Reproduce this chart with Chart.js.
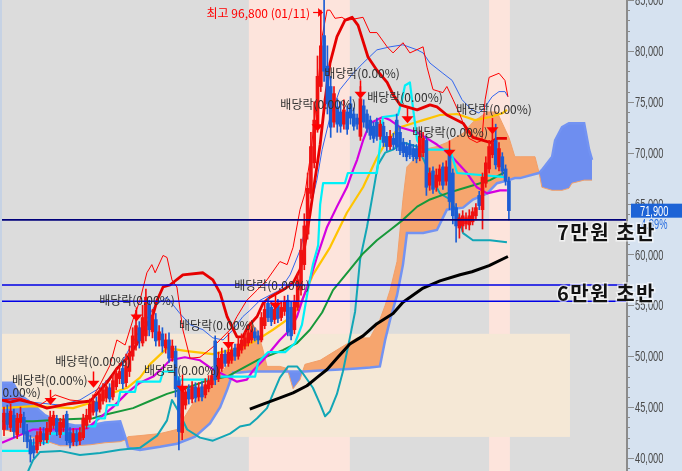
<!DOCTYPE html>
<html>
<head>
<meta charset="utf-8">
<script src="https://cdn.jsdelivr.net/npm/chart.js@4.4.1/dist/chart.umd.min.js"></script>
<style>
  html, body { margin: 0; padding: 0; background: #d6e2f0; }
  canvas { display: block; }
</style>
</head>
<body>
<canvas id="chart" width="682" height="471"></canvas>
<script>
// prices in thousand won, one candle per trading day (index 0..153)
const opens = [42.8,44.4,43.0,44.2,42.3,43.5,44.0,42.6,41.8,41.2,40.8,41.6,42.4,41.8,42.6,43.2,43.9,42.3,43.0,44.3,
  42.5,41.6,42.4,41.7,42.0,43.2,43.8,44.5,45.5,44.8,45.6,45.9,46.9,46.0,47.0,47.8,48.8,47.4,48.5,50.0,
  51.2,52.8,51.3,52.0,55.0,52.4,53.6,51.6,52.2,50.8,51.6,49.8,50.5,47.6,42.5,45.2,46.8,45.8,47.0,46.0,
  47.0,46.2,46.8,47.2,51.5,47.8,48.8,50.2,49.3,49.6,50.8,50.0,50.6,51.0,51.3,51.6,52.4,52.0,51.6,53.0,
  55.2,54.8,53.6,55.0,53.8,54.4,55.5,54.8,52.6,54.8,56.5,59.0,62.0,66.0,69.0,72.5,76.5,81.5,78.5,76.5,
  73.0,74.5,74.0,72.8,74.0,74.8,73.8,73.4,71.6,74.6,73.8,73.2,72.6,73.0,71.6,72.6,71.6,70.6,71.4,73.2,
  72.0,71.0,70.6,70.8,70.4,70.4,69.6,70.0,71.2,66.8,68.2,66.6,67.2,68.6,67.2,69.8,68.0,64.6,62.6,62.8,
  63.0,62.9,63.2,63.8,65.8,64.4,67.0,68.4,69.8,71.2,68.6,69.6,68.4,67.2];
const highs = [45.0,45.2,45.3,44.8,44.4,45.0,44.5,43.3,42.2,41.9,42.6,43.0,43.0,43.5,44.6,44.6,44.2,43.9,44.2,44.6,
  43.0,42.9,42.8,43.0,44.3,44.8,45.8,46.2,46.0,46.9,47.3,47.6,47.3,48.2,48.8,49.3,49.5,50.2,51.0,52.8,
  54.5,53.4,55.0,56.6,55.5,54.6,54.2,53.0,52.8,52.2,52.3,51.6,51.0,48.0,47.2,47.0,47.2,47.5,47.4,47.4,
  47.5,47.8,48.1,48.6,52.0,50.4,50.8,50.6,50.9,51.2,51.2,51.8,52.2,52.4,52.9,53.0,52.8,52.5,54.3,55.2,
  55.7,55.3,55.0,55.6,55.4,55.9,56.0,55.3,56.0,58.2,61.5,64.0,68.0,72.0,75.0,79.5,84.0,96.8,80.5,77.5,
  76.5,75.3,75.0,75.2,74.6,75.5,74.4,73.8,76.5,75.2,74.2,73.6,73.0,73.4,73.2,73.0,72.0,72.2,71.9,73.8,
  72.6,71.4,71.0,71.2,70.8,70.8,72.2,72.0,71.6,68.5,68.6,68.4,68.8,69.0,69.2,70.3,68.4,65.0,64.0,64.3,
  64.1,64.4,64.6,65.0,66.2,68.0,69.6,71.2,72.0,72.8,71.0,70.0,68.8,67.6];
const lows = [42.2,42.8,42.6,42.0,41.9,43.0,41.6,41.0,39.6,40.0,40.5,41.2,41.3,41.5,42.3,42.9,42.2,42.0,42.6,41.3,
  41.0,41.2,41.2,41.3,41.8,42.9,43.5,44.2,44.0,44.5,45.3,45.5,45.5,45.7,46.7,47.3,46.8,47.0,48.0,49.6,
  50.6,50.8,51.0,51.5,52.0,51.8,51.0,51.0,50.4,50.3,49.4,49.5,46.0,40.8,41.8,44.8,45.3,45.4,45.5,45.6,
  45.6,45.9,46.5,46.9,47.2,47.5,48.5,49.0,49.0,49.3,49.6,49.7,50.3,50.7,51.0,51.3,51.5,51.2,51.4,52.7,
  53.4,53.0,53.2,53.3,53.5,54.0,52.0,51.6,52.2,54.5,56.0,58.5,61.5,65.5,68.5,72.0,76.0,77.0,73.8,71.5,
  72.5,72.0,72.0,72.3,71.8,72.8,72.2,72.3,71.2,72.5,72.0,71.3,71.0,71.2,71.3,70.6,70.2,70.3,70.3,70.2,
  69.8,69.6,69.2,69.4,69.2,69.0,69.2,69.6,65.8,66.3,66.0,66.2,66.8,66.4,66.8,64.4,63.0,61.2,61.6,62.2,
  62.5,62.4,62.9,63.4,64.4,62.5,66.6,68.0,69.5,68.4,68.2,67.8,66.8,63.4];
const closes = [44.4,43.3,44.6,42.6,43.9,44.3,42.4,41.6,40.4,40.5,42.2,42.6,41.8,42.9,44.0,44.2,42.6,43.5,43.8,41.7,
  41.5,42.4,41.6,42.5,43.9,44.2,45.3,45.6,44.6,46.3,46.7,47.0,45.8,47.6,48.3,48.5,47.3,49.0,50.3,52.0,
  53.0,51.5,53.8,55.8,52.6,54.0,51.5,52.4,51.0,51.6,49.8,51.0,46.8,42.6,46.8,46.5,45.8,47.0,45.9,46.9,
  46.0,47.2,47.6,48.1,47.7,49.8,50.2,49.3,50.4,50.6,50.0,51.2,51.6,51.8,52.3,52.6,51.8,51.6,53.8,54.6,
  53.8,53.4,54.6,53.7,54.8,55.4,52.4,52.0,55.4,57.5,60.4,62.8,66.5,70.6,73.2,77.5,80.5,78.0,74.8,72.5,
  75.8,72.8,72.6,74.2,72.3,73.4,72.6,72.8,75.3,73.0,72.4,71.7,71.4,71.6,72.8,71.0,70.6,71.6,70.8,70.6,
  70.2,70.0,69.6,69.8,69.6,69.4,71.6,71.4,66.6,68.0,66.4,67.8,68.4,66.8,68.6,65.2,63.8,62.8,63.6,63.8,
  63.6,63.8,64.2,64.6,64.8,67.6,69.0,70.6,71.0,68.8,70.4,68.2,67.2,64.3];

// indicator lines: [candle index, value]
const envUpper = [[-0.6,45.7],[4.8,45.9],[10.9,45.2],[15.5,46.2],[20,45.7],[26.1,45.5],[29.1,47.2],[32.1,49.1],[34.2,51.6],[36.7,51.1],
  [39.1,53.6],[41.2,55.5],[43.3,58.2],[44.8,59.0],[45.8,58.2],[48.2,59.9],[49.4,59.7],[50.9,57.5],[52.4,56.8],[54.2,52.6],
  [56.4,49.8],[59.4,49.9],[63.3,50.9],[68.5,52.6],[70.6,53.9],[73.6,55.5],[76.7,56.5],[79.7,57.5],[83.6,59.3],[85.8,59.0],
  [87.6,60.7],[89.7,64.4],[91.2,66.0],[92.7,69.3],[94.8,75.2],[96.4,81.4],[97.9,84.0],[98.8,84.0],[100.3,83.2],[102.4,83.3],
  [103.9,83.0],[108.8,83.3],[110.9,81.8],[113,81.8],[116.1,80.4],[117.9,79.8],[120.9,80.8],[123,79.8],[127,80.4],[128.2,78.4],
  [130,76.2],[133,75.9],[134.2,76.5],[136.1,75.2],[138.2,73.7],[140.9,71.4],[143.3,71.0],[144.8,71.2],[145.8,75.2],[147,77.4],
  [150,77.8],[151.8,77.1],[152.7,75.5]];
const envBlue = [[-0.6,45.9],[7.9,45.5],[17,45.2],[23,45.7],[29.1,46.9],[35.2,49.1],[41.2,52.6],[45.8,55.0],[49.4,55.8],[53.3,54.2],
  [56.4,53.1],[60.3,52.6],[63.3,51.8],[66.4,51.6],[69.4,52.6],[72.4,53.9],[74.5,54.5],[77.6,55.5],[80.6,56.0],[83.6,56.5],
  [86.7,58.0],[89.7,60.4],[92.7,64.4],[94.8,67.3],[96.4,70.3],[98.8,73.5],[101.8,76.2],[105.8,77.8],[108.8,78.8],[113,80.1],
  [117,80.4],[120.9,80.6],[125.2,80.1],[127,79.8],[129.1,78.8],[133,77.8],[135.8,77.1],[138.8,75.2],[141.8,74.2],[143.9,73.9],
  [145.8,74.5],[147.9,75.5],[150,76.0],[151.8,76.0],[152.7,75.5]];
const maShort = [[-0.6,45.7],[1.8,45.5],[4.8,45.7],[8.8,45.4],[13,44.9],[19.1,45.3],[26.1,45.6],[28.2,46.3],[31.2,47.4],[34.2,48.8],
  [37.3,49.8],[40.3,51.2],[42.1,52.5],[45.2,54.1],[46.4,55.5],[48.2,56.8],[50.3,57.0],[54.2,58.0],[60.3,58.2],[63.3,57.5],
  [65.5,56.2],[67.6,53.9],[70.6,51.9],[72.4,51.9],[73.9,52.9],[76.7,53.9],[78.5,55.2],[80.6,55.8],[84.5,56.5],[87.6,57.2],
  [89.7,58.5],[90.6,59.8],[92.7,63.9],[94.2,67.3],[95.8,70.8],[97.3,75.2],[98.8,78.8],[100.9,81.4],[103.3,83.0],[105.5,83.3],
  [107.3,82.5],[110.3,79.4],[113,78.1],[116.1,76.9],[117.9,75.7],[120,74.7],[125.2,74.2],[129.1,74.7],[131.2,74.5],[134.2,73.7],
  [139.1,72.9],[142.1,71.5],[145.2,71.2],[147.3,71.0],[149.4,71.4],[152.4,71.4]];
const convLine = [[-0.6,40.7],[7.9,40.7],[8.8,41.5],[13.3,41.5],[13.9,42.4],[23,42.4],[23.9,43.1],[27.6,43.1],[28.2,43.9],[30.6,43.9],
  [31.2,45.2],[34.5,45.2],[35.2,46.5],[39.7,46.5],[40.3,47.5],[47.3,47.5],[48.2,48.5],[51.8,48.5],[52.7,47.7],[63.9,47.7],
  [64.8,48.0],[76.1,48.0],[77,49.4],[80,50.4],[85.2,50.4],[88.2,51.3],[90.3,53.1],[92.1,56.5],[93.6,59.0],[95.2,60.9],
  [95.8,64.9],[96.7,67.0],[103.3,67.0],[104.2,68.0],[113,68.0],[113.9,70.6],[114.8,73.5],[119.4,73.7],[120.6,75.2],[121.5,76.6],
  [123,76.9],[123.9,74.5],[125.2,71.2],[127,70.3],[135.2,70.3],[137.3,68.0],[151.8,67.6]];
const baseLine = [[-0.6,41.5],[8.8,42.8],[19.1,42.8],[25.2,42.9],[27,43.4],[33,45.0],[37.3,46.4],[41.2,47.4],[45.2,48.0],[48.2,48.9],
  [50.3,49.6],[54.8,49.9],[59.4,49.6],[62.4,48.9],[67.6,48.0],[70.6,47.5],[73.6,47.7],[75.5,48.6],[78.5,49.6],[83.6,51.6],
  [86.7,52.6],[88.8,53.9],[90.6,55.7],[92.7,57.5],[94.8,59.7],[97.9,62.7],[100.9,64.7],[103.9,66.6],[105.8,68.3],[107,69.3],
  [108.8,71.2],[110.9,72.9],[114.8,73.5],[117,73.2],[120,72.5],[125.2,72.0],[131.2,70.8],[135.2,69.8],[140.3,68.0],[143.3,66.6],
  [146.4,66.0],[150.3,66.3],[152.4,66.3]];
const ma60 = [[-0.6,44.9],[8.8,45.1],[20.9,44.9],[26.1,45.4],[29.1,45.6],[32.1,46.3],[37.3,46.9],[41.2,47.9],[44.2,49.2],[49.4,50.8],
  [55.5,50.5],[63.3,50.2],[72.4,50.9],[76.7,51.6],[81.5,52.6],[86.7,53.8],[89.7,55.0],[93.6,58.0],[98.8,60.7],[103.9,64.1],
  [108.8,66.6],[113,69.5],[116.1,71.2],[120,72.5],[127,73.2],[132.1,73.7],[137.3,73.8],[142.7,73.2],[147.3,73.5],[151.2,73.9],
  [152.4,74.2]];
const ma120 = [[-0.6,43.6],[8.8,43.6],[19.1,43.8],[27,43.9],[31.2,44.3],[39.1,44.9],[44.2,45.6],[49.4,46.3],[55.5,46.9],[61.5,47.6],
  [67.6,48.0],[76.7,49.6],[84.5,50.6],[88.8,51.3],[92.7,52.6],[96.4,54.3],[99.7,56.5],[104.8,58.5],[108.8,60.1],[113,61.4],
  [117,62.4],[120.9,63.4],[125.2,64.7],[129.1,65.4],[134.2,66.0],[138.2,66.4],[143.3,66.9],[147.3,67.3],[151.8,68.1]];
const ma240 = [[74.5,44.8],[78.5,45.3],[83.6,45.9],[87.6,46.4],[91.8,47.1],[94.8,47.9],[97.9,48.7],[100.9,49.8],[104.8,51.2],[108.8,52.0],
  [113,53.2],[117.9,54.2],[120.9,55.3],[127,56.7],[132.1,57.4],[138.2,58.0],[141.8,58.3],[147,58.9],[152.7,59.8]];
const bbLower = [[7.3,38.7],[8.8,39.8],[10.9,40.6],[17,40.7],[23,40.3],[29.1,40.5],[35.2,40.8],[41.2,41.0],[46.4,42.2],[49.4,43.7],
  [50.9,45.7],[52.7,44.7],[55.5,42.8],[59.4,42.0],[63.3,41.7],[68.5,42.4],[71.5,43.1],[74.5,43.3],[76.7,43.9],[79.7,44.9],
  [81.5,46.3],[83.6,47.9],[86.1,49.0],[88.8,49.0],[90.6,48.3],[93.6,46.9],[95.8,45.3],[97.3,44.1],[98.8,44.6],[100.9,46.3],
  [102.7,48.5],[104.8,51.8],[106.4,54.4],[107.9,59.5],[110,62.7],[111.8,66.0],[113.3,68.8],[115.5,70.0],[117.9,70.3],[120.9,71.0],
  [125.2,70.6],[128.2,68.6],[130,67.3],[132.1,66.0],[135.2,65.4],[137.3,64.1],[139.1,62.1],[142.1,61.4],[147.3,61.4],[152.4,61.2]];

// ichimoku cloud (leading spans, shifted forward)
const cloudIdx = [-0.6,2.7,4.8,7.9,12.4,17,21.5,26.1,30.6,35.2,37,37.6,41.2,47.3,52.4,57.9,62.4,65.5,67.6,69.4,
  71.5,74.5,76.7,78.5,79.7,83.6,85.8,87.6,89.7,91.2,95.8,101.8,107,110.9,113.9,115.5,117,119.1,120.9,122.1,
  127,131.2,134.2,139.1,142.1,146.4,149.4,153,154.8,156.4,160.9,162.1,163,166.1,167,169.1,171.2,172.1,175.8,177.3,178.2];
const spanA = [42.8,42.6,42.4,42.1,41.7,41.2,41.2,41.3,41.5,41.6,41.8,42.1,42.2,42.4,42.8,45.7,47.2,48.2,49.1,50.1,
  51.1,53.4,52.6,50.6,49.0,49.0,48.8,46.8,47.7,49.2,49.6,50.8,51.8,51.8,53.6,55.0,56.5,59.3,65.4,68.6,
  70.3,70.6,71.0,71.9,73.0,74.0,74.0,71.5,69.6,69.6,69.6,68.1,66.6,66.3,66.3,66.3,66.5,67.0,67.3,67.3,67.3];
const spanB = [47.4,47.4,46.2,45.5,44.2,43.5,43.2,43.2,43.5,43.6,41.8,41.0,40.8,41.1,41.4,42.1,43.4,45.0,46.7,48.4,
  48.4,48.5,48.5,48.5,48.5,48.5,48.5,48.5,48.5,48.5,48.6,48.7,48.8,48.9,49.0,51.6,53.6,56.0,59.0,62.1,
  62.1,62.4,64.4,64.6,65.4,66.0,67.0,67.3,67.5,67.5,67.9,68.0,68.3,69.6,71.2,72.5,72.9,72.9,72.9,70.3,69.3];

// support lines and their captions
const hLineVals = [63.4, 57.0, 55.4];
const hLineColors = ['#00007a', '#0000e6', '#0000e6'];
const zoneLabels = ['7만원 초반', '6만원 초반'];
const zoneLabelVals = [62.2, 56.2];

// ex-dividend markers
const divArrowIdx = [14, 27, 40, 54, 68, 82, 95, 108, 122, 135, 148];
const divArrowTip = [45.2, 46.9, 53.4, 46.4, 50.7, 54.6, 72.1, 75.3, 72.9, 69.6, 71.8];
const divArrowTop = [46.7, 48.5, 54.8, 48.2, 52.3, 56.2, 73.7, 77.1, 74.5, 71.2, 73.4];
const divLabelIdx = [-0.3, 13.9, 27, 40.3, 53.9, 64.5, 81.2, 95.2, 108.5, 121.5, 135.2, 148.5];
const divLabelVal = [46.4, 47.6, 49.5, 55.5, 48.6, 53.0, 57.0, 74.7, 77.8, 75.4, 72.0, 74.2];
const divText = '배당락(0.00%)';

const highText = '최고 96,800 (01/11)';
const highIdx = 97;
const lastPriceText = '71,900';
const lastChangeText = '-4.89%';

const yTickValues = [40, 45, 50, 55, 60, 65, 70, 75, 80, 85];
const yTickLabels = ['40,000','45,000','50,000','55,000','60,000','65,000','70,000','75,000','80,000','85,000'];

// shaded periods (index ranges) and price box
const pinkBands = [[74.2, 104.8], [147.0, 153.3]];
const beigeBox = { from: -0.6, to: 171.5, low: 42.07, high: 52.2 };

const UP = '#f01010', DOWN = '#1c5dd4';
const KR = "'Noto Sans CJK KR', sans-serif";

const pts = arr => arr.map(([x, y]) => ({ x, y }));
const lineSet = (label, data, color, width, order) => ({
  type: 'line', label, data: pts(data), borderColor: color, borderWidth: width,
  pointRadius: 0, fill: false, tension: 0, order, borderJoinStyle: 'round'
});

function narrowText(ctx, text, x, y, sx) {
  ctx.save();
  ctx.translate(x, y);
  ctx.scale(sx, 1);
  ctx.fillText(text, 0, 0);
  ctx.restore();
}

const bgPlugin = {
  id: 'bg',
  beforeDraw(chart) {
    const { ctx, chartArea: a, scales: { x, y } } = chart;
    ctx.save();
    ctx.fillStyle = '#d6e2f0';
    ctx.fillRect(0, 0, chart.width, chart.height);
    ctx.fillStyle = '#c6d2e4';
    ctx.fillRect(0, 0, a.left, chart.height);
    ctx.fillStyle = '#dcdcdc';
    ctx.fillRect(a.left, a.top, a.right - a.left, a.bottom - a.top);
    ctx.fillStyle = '#fde4dc';
    pinkBands.forEach(([s, e]) => {
      const x1 = x.getPixelForValue(s), x2 = x.getPixelForValue(e);
      ctx.fillRect(x1, a.top, x2 - x1, a.bottom - a.top);
    });
    ctx.fillStyle = '#f5e8d6';
    const bx1 = x.getPixelForValue(beigeBox.from), bx2 = x.getPixelForValue(beigeBox.to);
    const by1 = y.getPixelForValue(beigeBox.high), by2 = y.getPixelForValue(beigeBox.low);
    ctx.fillRect(bx1, by1, bx2 - bx1, by2 - by1);
    ctx.restore();
  }
};

const notePlugin = {
  id: 'notes',
  afterDatasetsDraw(chart) {
    const { ctx, chartArea: a, scales: { x, y } } = chart;
    ctx.save();
    ctx.beginPath();
    ctx.rect(a.left, a.top, a.right - a.left, a.bottom - a.top);
    ctx.clip();

    // red ex-dividend arrows
    ctx.strokeStyle = '#ff0000';
    ctx.fillStyle = '#ff0000';
    ctx.lineWidth = 1.5;
    divArrowIdx.forEach((idx, k) => {
      const px = Math.round(x.getPixelForValue(idx)) + 0.5;
      const tip = y.getPixelForValue(divArrowTip[k]);
      const top = y.getPixelForValue(divArrowTop[k]);
      ctx.beginPath();
      ctx.moveTo(px, top);
      ctx.lineTo(px, tip - 6);
      ctx.stroke();
      ctx.beginPath();
      ctx.moveTo(px - 6, tip - 7);
      ctx.lineTo(px + 6, tip - 7);
      ctx.lineTo(px, tip);
      ctx.closePath();
      ctx.fill();
    });

    // labels
    ctx.font = '12px ' + KR;
    ctx.fillStyle = '#303030';
    ctx.textAlign = 'center';
    ctx.textBaseline = 'middle';
    divLabelIdx.forEach((idx, k) => {
      ctx.fillText(divText, x.getPixelForValue(idx), y.getPixelForValue(divLabelVal[k]));
    });

    // all-time high note
    const hx = x.getPixelForValue(highIdx);
    ctx.fillStyle = '#ff0000';
    ctx.strokeStyle = '#ff0000';
    ctx.textAlign = 'right';
    ctx.fillText(highText, hx - 14, 13);
    ctx.lineWidth = 1.2;
    ctx.beginPath();
    ctx.moveTo(hx - 11, 12.5);
    ctx.lineTo(hx - 4, 12.5);
    ctx.stroke();
    ctx.beginPath();
    ctx.moveTo(hx - 6, 8);
    ctx.lineTo(hx - 1, 12.5);
    ctx.lineTo(hx - 6, 17);
    ctx.closePath();
    ctx.fill();
    ctx.restore();
  },
  afterDraw(chart) {
    const { ctx, chartArea: a, scales: { y } } = chart;
    ctx.save();
    // price axis
    ctx.strokeStyle = '#8c8c8c';
    ctx.lineWidth = 2;
    ctx.beginPath();
    ctx.moveTo(a.right + 1, 0);
    ctx.lineTo(a.right + 1, chart.height);
    ctx.stroke();
    ctx.lineWidth = 1;
    for (let v = 39; v <= 85; v++) {
      const py = Math.round(y.getPixelForValue(v)) + 0.5;
      ctx.beginPath();
      ctx.moveTo(a.right + 1, py);
      ctx.lineTo(a.right + (v % 5 === 0 ? 8 : 4), py);
      ctx.stroke();
    }
    ctx.fillStyle = '#4a4a4a';
    ctx.font = '15px "Liberation Sans", sans-serif';
    ctx.textAlign = 'left';
    ctx.textBaseline = 'middle';
    yTickValues.forEach((v, k) => {
      narrowText(ctx, yTickLabels[k], a.right + 9, y.getPixelForValue(v) + 1, 0.62);
    });

    // last price box
    const ly = y.getPixelForValue(closes[closes.length - 1]);
    ctx.fillStyle = '#1d63d6';
    ctx.fillRect(a.right + 5, ly - 7, chart.width - a.right - 5, 14);
    ctx.fillStyle = '#ffffff';
    narrowText(ctx, lastPriceText, a.right + 14, ly + 1, 0.62);
    ctx.fillStyle = '#2a6fe0';
    narrowText(ctx, lastChangeText, a.right + 12, ly + 14, 0.62);

    // support lines captions
    ctx.font = 'bold 20px ' + KR;
    ctx.textAlign = 'right';
    if ('letterSpacing' in ctx) ctx.letterSpacing = '1.5px';
    zoneLabels.forEach((t, k) => {
      const py = y.getPixelForValue(zoneLabelVals[k]);
      ctx.lineWidth = 3;
      ctx.strokeStyle = 'rgba(255,255,255,0.6)';
      ctx.strokeText(t, chart.width - 26, py);
      ctx.fillStyle = '#111111';
      ctx.fillText(t, chart.width - 26, py);
    });
    ctx.restore();
  }
};

const idx = closes.map((_, i) => i);
const candleColors = closes.map((c, i) => (c >= opens[i] ? UP : DOWN));

const datasets = [
  {
    type: 'line', label: 'spanA', order: 40,
    data: cloudIdx.map((v, k) => ({ x: v, y: spanA[k] })),
    borderColor: '#f2a06a', borderWidth: 1, pointRadius: 0, tension: 0,
    fill: { target: 1, above: '#f6a56e', below: '#6e8ef0' }
  },
  {
    type: 'line', label: 'spanB', order: 39,
    data: cloudIdx.map((v, k) => ({ x: v, y: spanB[k] })),
    borderColor: '#7393f2', borderWidth: 2.5, pointRadius: 0, tension: 0, fill: false
  },
  lineSet('bbLower', bbLower, '#12a6b6', 2, 20),
  lineSet('ma240', ma240, '#000000', 3, 19),
  lineSet('ma120', ma120, '#17983a', 2, 18),
  lineSet('ma60', ma60, '#ffc400', 2.2, 17),
  lineSet('baseLine', baseLine, '#d400e0', 2.2, 16),
  lineSet('convLine', convLine, '#00f0f8', 2.2, 15),
  lineSet('envBlue', envBlue, '#3366ee', 1, 14),
  lineSet('envUpper', envUpper, '#ff0000', 1, 13),
  lineSet('maShort', maShort, '#e60000', 2.8, 12),
  {
    type: 'bar', label: 'wick', order: 3, grouped: false,
    data: idx.map(i => ({ x: i, y: [lows[i], highs[i]] })),
    backgroundColor: candleColors, barThickness: 1, borderWidth: 0
  },
  {
    type: 'bar', label: 'body', order: 2, grouped: false,
    data: idx.map(i => ({ x: i, y: [opens[i], closes[i]] })),
    backgroundColor: candleColors, barThickness: 3, borderWidth: 0, minBarLength: 1
  }
];
hLineVals.forEach((v, k) => {
  datasets.push({
    type: 'line', label: 'support' + k, order: 1,
    data: [{ x: -0.606, y: v }, { x: 188.485, y: v }],
    borderColor: hLineColors[k], borderWidth: 1.6, pointRadius: 0, fill: false
  });
});

new Chart(document.getElementById('chart'), {
  type: 'bar',
  data: { datasets },
  options: {
    responsive: false,
    animation: false,
    events: [],
    layout: { padding: { left: 2, right: 56, top: 0, bottom: 0 } },
    plugins: { legend: { display: false }, tooltip: { enabled: false } },
    scales: {
      x: { type: 'linear', min: -0.606, max: 188.485, display: false, offset: false },
      y: { type: 'linear', min: 38.723, max: 85, display: false }
    }
  },
  plugins: [bgPlugin, notePlugin]
});
</script>
</body>
</html>
